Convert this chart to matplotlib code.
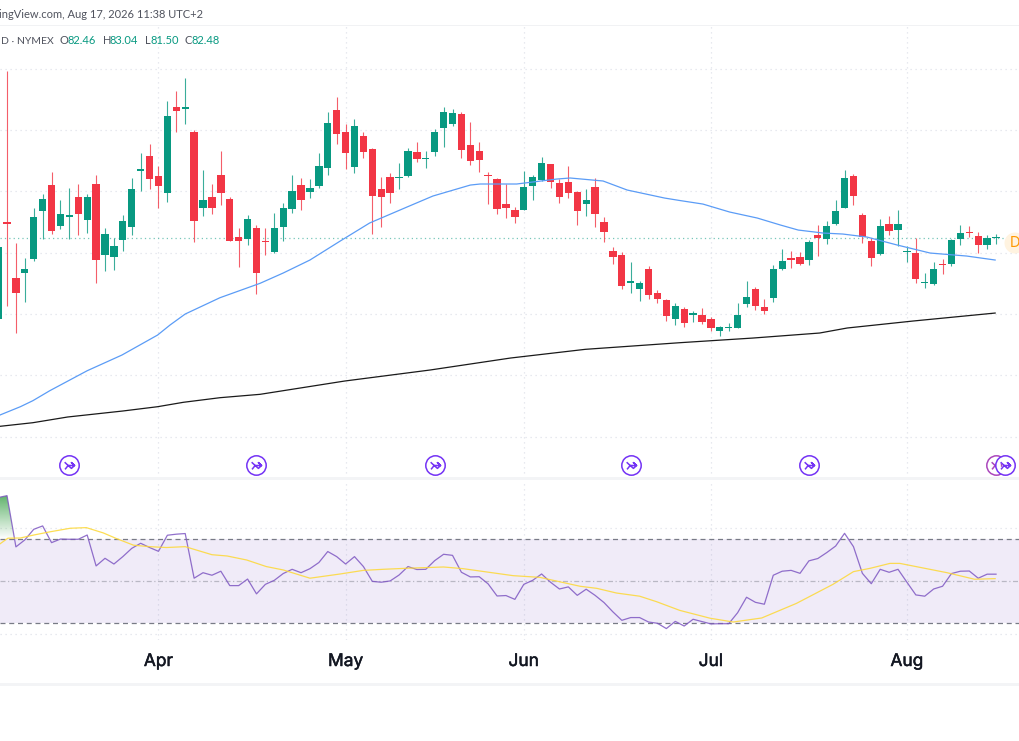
import numpy as np
import matplotlib
matplotlib.use("Agg")
import matplotlib.pyplot as plt
import matplotlib.patheffects as pe
from matplotlib.path import Path
from matplotlib.patches import Circle, Rectangle

# Daily candles, first bar sits just off the left edge
bars = np.arange(-1, 112)
opens = [69.14, 85.06, 75.82, 76.64, 78.91, 86.85, 90.98, 84.41, 85.87, 89.03, 85.27, 91.20, 79.57, 79.24, 82.07, 84.13,
         93.27, 95.77, 92.45, 89.68, 103.71, 103.38, 99.63, 87.23, 89.14, 92.72, 88.75, 82.61, 82.17, 83.97, 81.96, 80.05,
         84.24, 87.12, 90.98, 89.95, 90.93, 93.87, 103.33, 99.63, 94.03, 98.98, 96.91, 90.33, 92.29, 92.18, 92.51, 96.37,
         95.23, 96.37, 100.28, 101.05, 102.57, 97.51, 96.53, 92.67, 92.07, 87.89, 86.96, 86.96, 90.93, 91.86, 94.41, 91.31,
         91.48, 89.84, 88.00, 90.71, 84.95, 80.22, 79.62, 75.00, 74.13, 77.28, 73.37, 72.33, 69.12, 70.76, 69.89, 69.78,
         69.23, 67.28, 67.77, 67.77, 71.68, 74.02, 71.08, 72.55, 77.39, 79.13, 79.24, 78.86, 82.83, 82.28, 84.62, 87.34,
         92.51, 86.15, 81.85, 79.73, 84.68, 83.75, 80.06, 79.95, 75.11, 74.89, 78.15, 78.15, 82.18, 83.43, 82.67, 81.20, 82.46]
highs = [81.00, 109.69, 81.63, 79.08, 87.23, 89.52, 93.11, 88.59, 90.50, 91.26, 89.52, 92.62, 84.08, 82.45, 86.14, 92.13,
         96.21, 97.67, 94.14, 104.80, 106.32, 108.50, 100.01, 93.49, 91.26, 96.53, 89.03, 84.08, 86.14, 84.57, 83.97, 86.53,
         88.05, 92.72, 92.13, 91.96, 96.21, 102.95, 105.34, 100.99, 101.75, 99.74, 97.02, 92.35, 92.94, 94.68, 97.02, 98.00,
         96.64, 100.12, 103.82, 103.44, 103.00, 101.26, 98.00, 93.22, 92.24, 91.15, 87.51, 93.32, 92.67, 95.55, 94.47, 92.07,
         94.09, 90.12, 90.39, 92.24, 85.82, 80.98, 80.06, 78.42, 75.32, 77.77, 73.86, 72.44, 71.74, 71.08, 70.48, 70.92,
         69.45, 68.04, 68.58, 71.74, 75.38, 74.45, 72.50, 77.93, 80.60, 80.22, 80.06, 82.07, 84.57, 85.11, 88.59, 93.49,
         92.83, 86.42, 82.39, 85.55, 85.93, 86.91, 81.14, 82.34, 76.63, 78.48, 78.91, 82.18, 84.51, 84.30, 83.32, 82.94, 83.04]
lows = [69.10, 71.35, 66.85, 71.91, 78.69, 82.17, 82.99, 83.86, 82.28, 82.88, 83.26, 75.11, 77.06, 77.17, 80.33, 82.88,
        90.06, 90.44, 87.34, 88.32, 99.63, 101.05, 81.79, 86.04, 86.36, 87.83, 81.85, 77.66, 81.31, 73.26, 79.67, 79.89,
        81.96, 86.47, 86.91, 88.92, 90.55, 92.72, 97.67, 93.65, 93.05, 95.50, 83.05, 84.13, 88.05, 90.44, 92.29, 94.85,
        93.76, 95.83, 97.19, 100.72, 95.50, 94.36, 93.22, 87.99, 86.36, 85.60, 84.90, 86.90, 88.65, 91.75, 90.61, 88.16,
        88.97, 84.46, 85.98, 84.24, 81.80, 78.21, 74.02, 73.37, 72.17, 72.50, 71.79, 68.91, 68.20, 67.82, 68.64, 68.42,
        67.22, 66.41, 67.17, 67.71, 71.08, 70.70, 70.05, 71.95, 77.12, 77.45, 78.04, 77.93, 79.51, 81.47, 84.57, 87.23,
        87.72, 81.63, 77.88, 79.68, 82.88, 81.09, 78.48, 75.11, 74.29, 74.67, 76.47, 77.88, 81.25, 82.50, 80.00, 80.65, 81.50]
closes = [80.98, 84.73, 73.47, 77.29, 85.76, 88.70, 83.53, 86.25, 86.14, 86.25, 89.03, 78.86, 83.05, 81.09, 85.17, 90.33,
          93.70, 92.02, 90.82, 102.35, 103.17, 103.71, 85.11, 88.59, 87.23, 89.79, 81.90, 81.90, 85.44, 76.68, 81.79, 83.97,
          87.29, 90.11, 88.59, 90.60, 94.19, 101.21, 99.30, 96.26, 100.72, 96.48, 89.30, 89.08, 89.68, 92.35, 96.53, 95.23,
          95.45, 99.63, 102.90, 102.73, 96.75, 94.90, 95.12, 92.51, 87.12, 87.34, 85.87, 90.71, 92.29, 94.57, 91.58, 89.08,
          89.79, 86.74, 88.54, 86.25, 83.43, 79.24, 74.51, 75.32, 75.05, 73.04, 72.44, 69.61, 71.25, 68.47, 70.10, 68.74,
          67.77, 67.87, 67.87, 69.78, 72.82, 71.30, 70.54, 77.39, 78.64, 78.86, 78.21, 81.74, 82.45, 84.30, 86.80, 92.18,
          89.25, 82.56, 79.19, 84.41, 83.54, 84.68, 80.22, 75.65, 75.22, 77.28, 78.04, 82.07, 83.15, 83.15, 81.20, 82.34, 82.48]

# Moving averages, read at the bends
ma50_x = [-0.8, 1.5, 2.9, 4.8, 9.0, 12.9, 16.9, 18.3, 20, 23.9, 28.4, 31, 34, 37.4, 40.7, 44.9, 47.8, 52, 53.1, 57.2,
          61.7, 63.2, 66.9, 69.6, 73.8, 75.5, 78.1, 81.1, 84.2, 86.8, 88.8, 91.6, 93.8, 96.5, 99.9, 103.6, 107.7, 110.9]
ma50_y = [53.52, 54.88, 55.86, 57.49, 60.75, 63.31, 66.57, 68.21, 70.0, 72.66, 75.01, 76.69, 78.81, 81.91, 84.85, 87.46,
          89.25, 91.04, 91.21, 91.21, 92.02, 92.19, 91.70, 90.23, 88.92, 88.52, 87.94, 86.64, 85.66, 84.52, 83.70, 83.21,
          83.05, 82.56, 81.26, 79.95, 79.46, 78.81]
ma200_x = [-0.8, 2.9, 6.8, 13, 16.9, 19.8, 23.9, 28.4, 37.9, 47.5, 56.5, 64.9, 75.5, 83.7, 91.2, 94.3, 101.7, 110.9]
ma200_y = [51.68, 52.27, 53.2, 54.18, 54.88, 55.6, 56.35, 56.9, 59.07, 60.87, 62.82, 64.24, 65.32, 66.08, 66.9, 67.72,
           68.86, 70.16]

# RSI pane
rsi = [89.4, 90.3, 66.1, 69.4, 74.4, 76.0, 68.1, 69.8, 69.7, 69.7, 71.7, 57.1, 60.7, 58.0, 61.5, 65.4, 67.8, 65.8, 64.0,
       71.6, 72.1, 72.4, 51.3, 53.9, 52.7, 54.6, 47.8, 47.8, 50.9, 43.9, 48.4, 50.3, 53.5, 55.5, 53.9, 55.8, 58.7, 63.9,
       61.5, 58.0, 61.5, 56.8, 49.8, 49.4, 50.0, 52.8, 56.8, 55.4, 55.5, 59.6, 62.6, 62.1, 54.1, 51.9, 52.0, 48.6, 42.9,
       43.1, 41.3, 48.4, 50.3, 53.3, 49.4, 46.2, 47.2, 43.2, 46.1, 43.2, 39.8, 35.4, 31.4, 32.7, 32.7, 30.6, 30.0, 27.5,
       30.9, 28.7, 31.9, 30.8, 29.7, 29.8, 29.8, 35.0, 42.3, 39.9, 39.0, 52.7, 54.6, 55.0, 53.6, 59.5, 60.6, 63.4, 66.5,
       72.5, 66.2, 53.6, 48.7, 55.5, 54.1, 55.5, 49.4, 43.4, 42.8, 46.2, 47.5, 53.5, 54.6, 54.7, 51.3, 53.2, 53.2]
rsi_ma_x = [-0.8, 0.1, 1.5, 3.0, 4.8, 7.1, 8.9, 10.8, 12.3, 14.2, 16.0, 17.9, 20, 23, 24.7, 26.9, 29.1, 31, 34, 37.4,
            40, 42.2, 44.9, 49, 51.2, 56.8, 59.8, 64.3, 66.2, 68.4, 71, 72.9, 75.5, 78.9, 81.5, 84.7, 88.6, 92.7, 95,
            96.9, 99.1, 100.2, 105.5, 108.6, 110.9]
rsi_ma_y = [67.5, 70.2, 70.3, 71.7, 73.2, 74.9, 75.2, 72.7, 70.0, 66.9, 66.2, 65.8, 66.2, 62.4, 61.8, 59.9, 56.8, 55.2,
            51.3, 53.3, 55.0, 55.5, 56.0, 56.6, 55.8, 52.5, 51.7, 47.5, 46.5, 44.3, 42.8, 40.2, 36.1, 32.4, 30.6, 32.5,
            39.4, 48.4, 54.4, 56.0, 58.3, 58.3, 53.9, 50.8, 51.1]

# Axis labels and event icons
month_bars = [17, 38, 58, 79, 101]
month_labels = ["Apr", "May", "Jun", "Jul", "Aug"]
price_grid = [50, 60, 70, 80, 90, 100, 110]
event_bars = [7, 28, 48, 70, 90, 112]
last_price = 82.48

UP = "#089981"
DOWN = "#f23645"
GRID = "#e0e3eb"
W, H = 1020, 741
XLIM = (-0.786, 113.69)

fig = plt.figure(figsize=(W / 100, H / 100), dpi=100)
fig.patch.set_facecolor("white")


def pane(top, bottom):
    ax = fig.add_axes([0, 1 - bottom / H, 1, (bottom - top) / H])
    ax.set_xlim(*XLIM)
    ax.set_xticks([])
    ax.set_yticks([])
    for s in ax.spines.values():
        s.set_visible(False)
    return ax


ax = pane(25, 478)
ax.set_ylim(43.25, 117.15)
rsi_ax = pane(480, 640)
rsi_ax.set_ylim(22.1, 97.7)
rsi_ax.patch.set_alpha(0)

# Grid
dots = (0, (1, 3))
for p in price_grid:
    ax.axhline(p, color=GRID, lw=0.9, ls=dots, zorder=1)
for m in month_bars:
    ax.axvline(m, color=GRID, lw=0.9, ls=dots, zorder=1)
    rsi_ax.axvline(m, color=GRID, lw=0.9, ls=dots, zorder=1)
for lv in [25, 75]:
    rsi_ax.axhline(lv, color=GRID, lw=0.9, ls=dots, zorder=1)

# Candles
colors = [UP if c >= o else DOWN for o, c in zip(opens, closes)]
body_low = np.minimum(opens, closes)
body_h = np.maximum(np.abs(np.subtract(closes, opens)), 0.16)
ax.vlines(bars, lows, highs, colors=colors, lw=0.8, alpha=0.8, zorder=3)
ax.bar(bars, body_h, bottom=body_low, width=0.82, color=colors, linewidth=0, zorder=4)

# Averages and last price
ax.axhline(last_price, color=UP, lw=0.9, ls=(0, (1, 2.5)), alpha=0.55, zorder=2)
ax.plot(ma50_x, ma50_y, color="#5b9cf6", lw=0.9, zorder=5)
ax.plot(ma200_x, ma200_y, color="#1a1a1a", lw=0.9, zorder=5)

# Event icons
circle = Path.circle((0, 0), 1)
arrow = Path([(-0.5, 0.34), (-0.14, 0.0), (0.52, 0.0), (0.2, 0.3), (0.52, 0.0), (0.2, -0.3), (-0.14, 0.0), (-0.46, -0.4)],
             [Path.MOVETO] + [Path.LINETO] * 7)
icon = Path.make_compound_path(circle, arrow)
ax.scatter([111], [45.4], marker=icon, s=195, facecolors="white", edgecolors="#ab47bc", linewidths=1.1, zorder=6)
ax.scatter(event_bars, [45.4] * len(event_bars), marker=icon, s=195, facecolors="white", edgecolors="#7433f5",
           linewidths=1.1, zorder=7, clip_on=False)

# RSI pane
rsi_ax.axhspan(30, 70, color="#7e57c2", alpha=0.115, lw=0, zorder=1)
rsi_ax.axhline(70, color="#787b86", lw=0.9, ls=(0, (4, 3)), zorder=2)
rsi_ax.axhline(30, color="#787b86", lw=0.9, ls=(0, (4, 3)), zorder=2)
rsi_ax.axhline(50, color="#787b86", lw=0.9, ls=(0, (4, 2, 1, 2)), alpha=0.45, zorder=2)

rsi_arr = np.array(rsi)
fill = rsi_ax.fill_between(bars, 70, rsi_arr, where=rsi_arr > 70, interpolate=True, color="none", lw=0)
grad = np.zeros((64, 2, 4))
grad[..., :3] = matplotlib.colors.to_rgb("#3fa34d")
grad[..., 3] = np.linspace(0.85, 0, 64)[:, None]
im = rsi_ax.imshow(grad, extent=(XLIM[0], XLIM[1], 70, 91), aspect="auto", zorder=2, interpolation="bilinear")
im.set_clip_path(fill.get_paths()[0], transform=rsi_ax.transData)
rsi_ax.set_xlim(*XLIM)
rsi_ax.set_ylim(22.1, 97.7)

rsi_ax.plot(bars, rsi, color="#7e57c2", lw=0.9, alpha=0.85, zorder=4)
rsi_ax.plot(rsi_ma_x, rsi_ma_y, color="#fdd835", lw=0.9, alpha=0.85, zorder=5)

# Overlay in pixel coordinates for header, stripes and labels
over = fig.add_axes([0, 0, 1, 1], zorder=10)
over.set_xlim(0, W)
over.set_ylim(H, 0)
over.axis("off")
over.add_patch(Rectangle((0, 24.5), W, 1.5, color="#f1f2f4", lw=0))
over.add_patch(Rectangle((0, 477), W, 2.5, color="#f3f4f6", lw=0))
over.add_patch(Rectangle((0, 683), W, 2.5, color="#f3f4f6", lw=0))

font = "Lato"
over.text(-1, 15, "ingView.com, Aug 17, 2026 11:38 UTC+2", fontsize=8.0, family=font, color="#50535e", va="center", ha="left")
over.text(1, 41, "D · NYMEX", fontsize=7.5, family=font, color="#50535e", va="center", ha="left")
legend_labels = ["O", "H", "L", "C"]
legend_values = ["82.46", "83.04", "81.50", "82.48"]
legend_label_x = [60, 103, 145, 185]
legend_value_x = [67.5, 110, 150.5, 192]
for lab, val, lx, vx in zip(legend_labels, legend_values, legend_label_x, legend_value_x):
    over.text(lx, 41, lab, fontsize=8.0, family=font, color="#50535e", va="center", ha="left")
    over.text(vx, 41, val, fontsize=8.0, family=font, color=UP, va="center", ha="left")

month_px = [(m - XLIM[0]) / (XLIM[1] - XLIM[0]) * W for m in month_bars]
for px, lab in zip(month_px, month_labels):
    t = over.text(px, 661.5, lab, fontsize=12.5, family="Inter", color="#131722", va="center", ha="center")
    t.set_path_effects([pe.withStroke(linewidth=0.35, foreground="#131722")])

over.add_patch(Circle((1015, 243), 10.5, color="#fff3e0", lw=0))
over.text(1015.5, 243, "D", fontsize=10.5, family="Inter", color="#ff9800", va="center", ha="center")

fig.savefig("out.png", dpi=100)
